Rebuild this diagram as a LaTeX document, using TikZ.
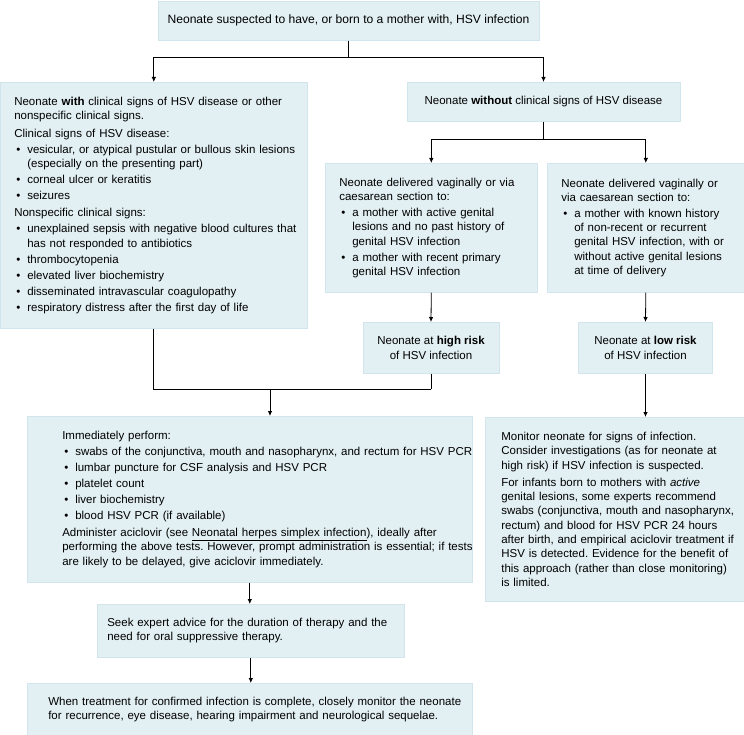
\documentclass[tikz,border=0pt]{standalone}
\usepackage{fontspec}
\setmainfont{Liberation Sans}
\usetikzlibrary{arrows.meta}
\definecolor{boxfill}{HTML}{E2EFF3}
\definecolor{boxline}{HTML}{D2E5EC}
\newcommand{\diagfont}{\fontsize{11.5pt}{14.3pt}\selectfont\frenchspacing}
\newcommand{\setpad}[1]{\leftskip=#1pt\rightskip=-25pt plus 1fil\noindent}
\newcommand{\bul}{\par\vspace{1.7pt}\hangindent=13pt\hangafter=1\noindent\makebox[13pt][l]{\hspace{2pt}\textbullet}}
\newcommand{\psep}{\par\vspace{3pt}\noindent}
\tikzset{
  box/.style={fill=boxfill, draw=boxline, line width=0.6pt, inner sep=0pt, font=\diagfont},
  lbox/.style={box, align=left, anchor=north west},
  cbox/.style={box, align=center, anchor=north},
  conn/.style={draw=black, line width=0.8pt},
  arr/.style={conn, -{Latex[length=5pt,width=4.5pt]}}
}
\begin{document}
\begin{tikzpicture}[x=1pt,y=-1pt]
\useasboundingbox (0,0) rectangle (744,735);

\node[cbox, minimum width=381pt, minimum height=39pt, font=\fontsize{12.1pt}{14.3pt}\selectfont\frenchspacing] (top) at (348.5,1)
  {Neonate suspected to have, or born to a mother with, HSV infection};

\node[lbox, text width=307pt, minimum height=246pt] (with) at (0,82) {%
\setpad{14}Neonate \textbf{with} clinical signs of HSV disease or other\newline nonspecific clinical signs.
\psep Clinical signs of HSV disease:
\bul vesicular, or atypical pustular or bullous skin lesions\newline (especially on the presenting part)
\bul corneal ulcer or keratitis
\bul seizures
\psep Nonspecific clinical signs:
\bul unexplained sepsis with negative blood cultures that\newline has not responded to antibiotics
\bul thrombocytopenia
\bul elevated liver biochemistry
\bul disseminated intravascular coagulopathy
\bul respiratory distress after the first day of life\par};

\node[cbox, minimum width=273pt, minimum height=39pt] (without) at (543.5,82)
  {Neonate \textbf{without} clinical signs of HSV disease};

\node[lbox, text width=212pt, minimum height=129pt] (midL) at (325,163) {%
\setpad{14}Neonate delivered vaginally or via\newline caesarean section to:
\bul a mother with active genital\newline lesions and no past history of\newline genital HSV infection
\bul a mother with recent primary\newline genital HSV infection\par};

\node[lbox, text width=197pt, minimum height=129pt] (midR) at (547,163) {%
\setpad{14}Neonate delivered vaginally or\newline via caesarean section to:
\bul a mother with known history\newline of non-recent or recurrent\newline genital HSV infection, with or\newline without active genital lesions\newline at time of delivery\par};

\node[cbox, minimum width=136pt, minimum height=51pt] (high) at (431,322)
  {Neonate at \textbf{high risk}\\of HSV infection};
\node[cbox, minimum width=134pt, minimum height=51pt] (low) at (645.5,322)
  {Neonate at \textbf{low risk}\\of HSV infection};

\node[lbox, text width=445pt, minimum height=166pt] (imm) at (27,416) {%
\setpad{35}Immediately perform:
\bul swabs of the conjunctiva, mouth and nasopharynx, and rectum for HSV PCR
\bul lumbar puncture for CSF analysis and HSV PCR
\bul platelet count
\bul liver biochemistry
\bul blood HSV PCR (if available)
\psep Administer aciclovir (see \underline{Neonatal herpes simplex infection}), ideally after\newline performing the above tests. However, prompt administration is essential; if tests\newline are likely to be delayed, give aciclovir immediately.\par};

\node[lbox, text width=259pt, minimum height=184pt] (mon) at (485,417) {%
\setpad{16}Monitor neonate for signs of infection.\newline Consider investigations (as for neonate at\newline high risk) if HSV infection is suspected.
\psep For infants born to mothers with \textit{active}\newline genital lesions, some experts recommend\newline swabs (conjunctiva, mouth and nasopharynx,\newline rectum) and blood for HSV PCR 24 hours\newline after birth, and empirical aciclovir treatment if\newline HSV is detected. Evidence for the benefit of\newline this approach (rather than close monitoring)\newline is limited.\par};

\node[lbox, text width=307pt, minimum height=53pt] (seek) at (97,604) {%
\setpad{10}Seek expert advice for the duration of therapy and the\newline need for oral suppressive therapy.\par};

\node[lbox, text width=445pt, minimum height=52pt] (final) at (27,683) {%
\setpad{21}When treatment for confirmed infection is complete, closely monitor the neonate\newline for recurrence, eye disease, hearing impairment and neurological sequelae.\par};

% connectors
\coordinate (s1) at (top.south |- 0,57);
\draw[conn] (top.south) -- (s1);
\draw[arr] (s1) -| (with.north);
\draw[arr] (s1) -| (without.north);

\coordinate (s2) at (without.south |- 0,139);
\draw[conn] (without.south) -- (s2);
\draw[arr] (s2) -| (midL.north);
\draw[arr] (s2) -| (midR.north);

\draw[arr] (midL.south) -- (high.north);
\draw[arr] (midR.south) -- (low.north);

\coordinate (j) at (high.south |- 0,389);
\coordinate (j2) at (270,389);
\draw[conn] (with.south) |- (j);
\draw[conn] (high.south) -- (j);
\draw[arr] (j2) -- (imm.north -| j2);

\draw[arr] (low.south) -- (low.south |- mon.north);
\draw[arr] (imm.south) -- (imm.south |- seek.north);
\draw[arr] (seek.south) -- (seek.south |- final.north);
\end{tikzpicture}
\end{document}
